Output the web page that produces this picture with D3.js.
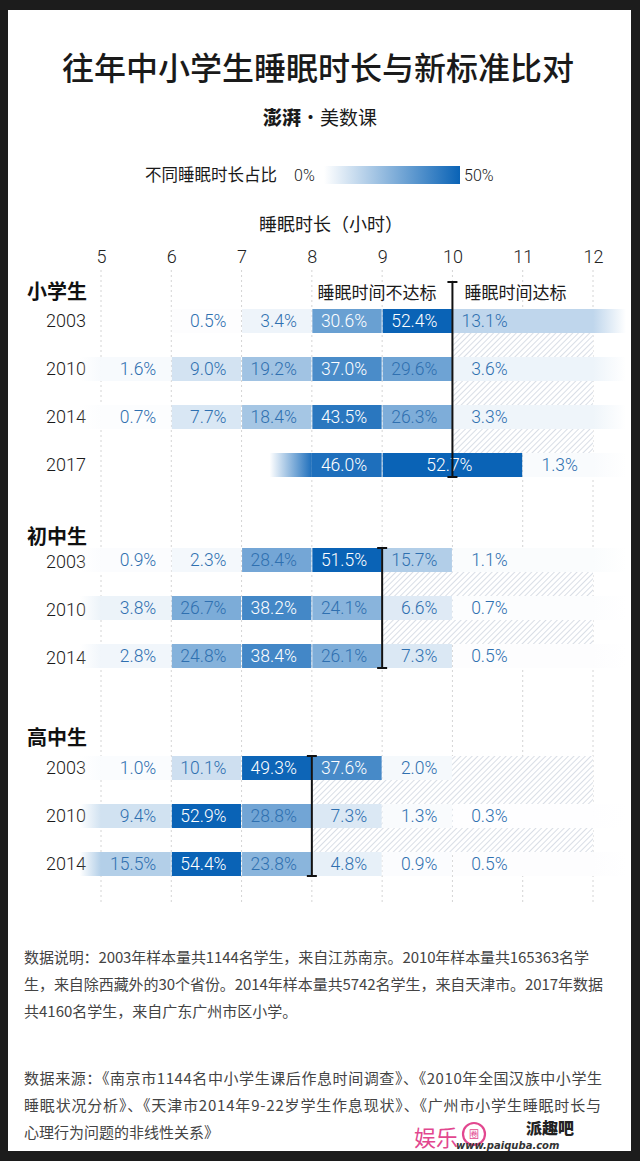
<!DOCTYPE html>
<html><head><meta charset="utf-8">
<script src="https://cdn.jsdelivr.net/npm/d3@7"></script>
<style>html,body{margin:0;padding:0;background:#1c1c1c;} svg{display:block}</style>
</head><body>
<svg id="c" width="640" height="1161"></svg>
<script>
// ---------- data ----------
const tickHours = [5, 6, 7, 8, 9, 10, 11, 12];
const tickLabels = ["5", "6", "7", "8", "9", "10", "11", "12"];
const groupNames = ["小学生", "初中生", "高中生"];
const standardHours = [10, 9, 8];

// standard bins: <6, 6-7, 7-8, 8-9, 9-10, >=10
const binStarts = [5, 6, 7, 8, 9, 10];
const binEnds = [6, 7, 8, 9, 10, 12];
const binLabelEnds = [6, 7, 8, 9, 10, 11];
// 2017 primary bins: <9, 9-11, >=11
const bins2017Starts = [8, 9, 11];
const bins2017Ends = [9, 11, 12];
const bins2017LabelEnds = [9, 10.5, 12];

const primaryYears = ["2003", "2010", "2014", "2017"];
const primary2003 = [null, 0.5, 3.4, 30.6, 52.4, 13.1];
const primary2010 = [1.6, 9.0, 19.2, 37.0, 29.6, 3.6];
const primary2014 = [0.7, 7.7, 18.4, 43.5, 26.3, 3.3];
const primary2017 = [46.0, 52.7, 1.3];

const juniorYears = ["2003", "2010", "2014"];
const junior2003 = [0.9, 2.3, 28.4, 51.5, 15.7, 1.1];
const junior2010 = [3.8, 26.7, 38.2, 24.1, 6.6, 0.7];
const junior2014 = [2.8, 24.8, 38.4, 26.1, 7.3, 0.5];

const seniorYears = ["2003", "2010", "2014"];
const senior2003 = [1.0, 10.1, 49.3, 37.6, 2.0, null];
const senior2010 = [9.4, 52.9, 28.8, 7.3, 1.3, 0.3];
const senior2014 = [15.5, 54.4, 23.8, 4.8, 0.9, 0.5];

const legendTitle = "不同睡眠时长占比";
const legendDomain = [0, 50];
const noteLines = [
  "数据说明：2003年样本量共1144名学生，来自江苏南京。2010年样本量共165363名学",
  "生，来自除西藏外的30个省份。2014年样本量共5742名学生，来自天津市。2017年数据",
  "共4160名学生，来自广东广州市区小学。"
];
const sourceLines = [
  "数据来源：《南京市1144名中小学生课后作息时间调查》、《2010年全国汉族中小学生",
  "睡眠状况分析》、《天津市2014年9-22岁学生作息现状》、《广州市小学生睡眠时长与",
  "心理行为问题的非线性关系》"
];

// ---------- build ----------
const std = (vals) => ({vals, starts: binStarts, ends: binEnds, labelEnds: binLabelEnds, fadeL: 0.3});
const groups = [
  {name: groupNames[0], standard: standardHours[0], firstY: 321, labelGap: 22, rows: [
    {year: primaryYears[0], ...std(primary2003)},
    {year: primaryYears[1], ...std(primary2010)},
    {year: primaryYears[2], ...std(primary2014)},
    {year: primaryYears[3], vals: primary2017, starts: bins2017Starts, ends: bins2017Ends, labelEnds: bins2017LabelEnds, fadeL: 0.6}
  ]},
  {name: groupNames[1], standard: standardHours[1], firstY: 560, labelGap: 16, rows: [
    {year: juniorYears[0], ...std(junior2003)},
    {year: juniorYears[1], ...std(junior2010)},
    {year: juniorYears[2], ...std(junior2014)}
  ]},
  {name: groupNames[2], standard: standardHours[2], firstY: 768, labelGap: 23, rows: [
    {year: seniorYears[0], ...std(senior2003)},
    {year: seniorYears[1], ...std(senior2010)},
    {year: seniorYears[2], ...std(senior2014)}
  ]}
];

const CJK = "'Noto Sans CJK SC','Noto Sans',sans-serif";
const NUM = "'Roboto','Lato',sans-serif";
const BLUE_TXT = "#2f70b0";
const svg = d3.select("#c");
const defs = svg.append("defs");

svg.append("rect").attr("x", 8).attr("y", 10).attr("width", 623).attr("height", 1141).attr("fill", "#fff");

const x = d3.scaleLinear().domain([5, 12]).range([101, 593]);
const color = d3.scaleLinear().domain(legendDomain).range(["#ffffff", "#0a63b6"]).clamp(true);
const rowStep = 48, barH = 24;

// hatch pattern
const pat = defs.append("pattern").attr("id", "hatch").attr("patternUnits", "userSpaceOnUse")
  .attr("width", 4).attr("height", 4).attr("patternTransform", "rotate(45)");
pat.append("rect").attr("width", 4).attr("height", 4).attr("fill", "#fff");
pat.append("line").attr("x1", 0).attr("y1", 0).attr("x2", 0).attr("y2", 4)
  .attr("stroke", "#cdd4de").attr("stroke-width", 1.5);

// title
svg.append("text").attr("x", 318).attr("y", 80).attr("text-anchor", "middle")
  .attr("font-family", CJK).attr("font-size", 32).attr("font-weight", 500).attr("fill", "#1a1a1a")
  .text("往年中小学生睡眠时长与新标准比对");
const logo = svg.append("text").attr("x", 320).attr("y", 125).attr("text-anchor", "middle")
  .attr("font-family", CJK).attr("font-size", 19).attr("fill", "#1a1a1a");
logo.append("tspan").attr("font-weight", 900).text("澎湃");
logo.append("tspan").text("·美数课");

// legend
svg.append("text").attr("x", 145).attr("y", 181).attr("font-family", CJK).attr("font-size", 16.5)
  .attr("fill", "#1a1a1a").text(legendTitle);
svg.append("text").attr("x", 294).attr("y", 181).attr("font-family", NUM).attr("font-weight", 300).attr("font-size", 16)
  .attr("fill", "#1a1a1a").text(legendDomain[0] + "%");
const lg = defs.append("linearGradient").attr("id", "legGrad");
lg.append("stop").attr("offset", "0%").attr("stop-color", color(legendDomain[0]));
lg.append("stop").attr("offset", "100%").attr("stop-color", color(legendDomain[1]));
svg.append("rect").attr("x", 324).attr("y", 166).attr("width", 136).attr("height", 18).attr("fill", "url(#legGrad)");
svg.append("text").attr("x", 464).attr("y", 181).attr("font-family", NUM).attr("font-weight", 300).attr("font-size", 16)
  .attr("fill", "#1a1a1a").text(legendDomain[1] + "%");

// axis title
svg.append("text").attr("x", 331).attr("y", 231).attr("text-anchor", "middle").attr("font-family", CJK)
  .attr("font-size", 18).attr("fill", "#1a1a1a").text("睡眠时长（小时）");

// axis ticks + grid
const axis = d3.axisTop(x).tickValues(tickHours).tickFormat((d, i) => tickLabels[i]).tickSize(0).tickPadding(0);
const ag = svg.append("g").attr("transform", "translate(0,263)").call(axis);
ag.select(".domain").remove();
ag.selectAll("text").attr("font-family", NUM).attr("font-weight", 300).attr("font-size", 18).attr("fill", "#222");
svg.append("g").selectAll("line").data(tickHours).join("line")
  .attr("x1", d => x(d)).attr("x2", d => x(d)).attr("y1", 270).attr("y2", 902)
  .attr("stroke", "#d4d4d4").attr("stroke-width", 1).attr("stroke-dasharray", "2,3");

let gid = 0;
groups.forEach((g, gi) => {
  const y = d3.scaleLinear().domain([0, 1]).range([g.firstY, g.firstY + rowStep]);
  const n = g.rows.length;
  const topY = y(0) - barH / 2, lastTop = y(n - 1) - barH / 2, bottomY = y(n - 1) + barH / 2;

  // group label
  svg.append("text").attr("x", 27).attr("y", y(0) - g.labelGap).attr("font-family", CJK)
    .attr("font-size", 20).attr("font-weight", 700).attr("fill", "#111").text(g.name);

  // hatch region (meets standard)
  svg.append("rect").attr("x", x(g.standard)).attr("y", topY)
    .attr("width", x(12) - x(g.standard)).attr("height", lastTop - topY).attr("fill", "url(#hatch)");

  g.rows.forEach((r, ri) => {
    const cy = y(ri);
    svg.append("text").attr("x", 86).attr("y", cy + 6 + (gi === 1 ? 2 : 0)).attr("text-anchor", "end")
      .attr("font-family", NUM).attr("font-weight", 300).attr("font-size", 18).attr("fill", "#1a1a1a").text(r.year);
    const nb = r.vals.length;
    r.vals.forEach((v, bi) => {
      if (v === null) return;
      const c = color(v);
      const s = r.starts[bi], e = r.ends[bi];
      svg.append("rect").attr("x", x(s) + (bi > 0 ? 0.5 : 0)).attr("y", cy - barH / 2)
        .attr("width", x(e) - x(s) - (bi > 0 ? 0.5 : 0) - (bi < nb - 1 ? 0.5 : 0)).attr("height", barH).attr("fill", c);
      if (bi === 0 && (s === 5 || r.fadeL > 0.4)) {
        const id = "fl" + (gid++);
        const gr = defs.append("linearGradient").attr("id", id);
        gr.append("stop").attr("offset", "0%").attr("stop-color", c).attr("stop-opacity", 0);
        gr.append("stop").attr("offset", "100%").attr("stop-color", c).attr("stop-opacity", 1);
        svg.append("rect").attr("x", x(s - r.fadeL)).attr("y", cy - barH / 2)
          .attr("width", x(s) - x(s - r.fadeL)).attr("height", barH).attr("fill", `url(#${id})`);
      }
      if (bi === nb - 1 && e === 12) {
        const id = "fr" + (gid++);
        const gr = defs.append("linearGradient").attr("id", id);
        gr.append("stop").attr("offset", "0%").attr("stop-color", c).attr("stop-opacity", 1);
        gr.append("stop").attr("offset", "100%").attr("stop-color", c).attr("stop-opacity", 0);
        svg.append("rect").attr("x", x(12)).attr("y", cy - barH / 2)
          .attr("width", x(12.47) - x(12)).attr("height", barH).attr("fill", `url(#${id})`);
      }
      svg.append("text").attr("x", x(r.labelEnds[bi]) - 15).attr("y", cy + 6).attr("text-anchor", "end")
        .attr("font-family", NUM).attr("font-weight", 300).attr("font-size", 17.5)
        .attr("fill", v >= 30 ? "#fff" : BLUE_TXT).text(d3.format(".1f")(v) + "%");
    });
  });

  // standard line with caps
  const lineTop = gi === 0 ? 282 : topY;
  const sx = x(g.standard);
  const sl = svg.append("g").attr("stroke", "#111").attr("stroke-width", 2);
  sl.append("line").attr("x1", sx).attr("x2", sx).attr("y1", lineTop).attr("y2", bottomY);
  sl.append("line").attr("x1", sx - 5).attr("x2", sx + 5).attr("y1", lineTop).attr("y2", lineTop);
  sl.append("line").attr("x1", sx - 5).attr("x2", sx + 5).attr("y1", bottomY).attr("y2", bottomY);

  if (gi === 0) {
    svg.append("text").attr("x", sx - 16).attr("y", 299).attr("text-anchor", "end").attr("font-family", CJK)
      .attr("font-size", 17).attr("fill", "#1a1a1a").text("睡眠时间不达标");
    svg.append("text").attr("x", sx + 12).attr("y", 299).attr("font-family", CJK)
      .attr("font-size", 17).attr("fill", "#1a1a1a").text("睡眠时间达标");
  }
});

// notes
const noteG = svg.append("g").attr("font-family", CJK).attr("font-size", 15).attr("fill", "#444");
const noteLens = [565, 579, null];
const srcLens = [578, 577, null];
noteLines.forEach((t, i) => {
  const tx = noteG.append("text").attr("x", 24).attr("y", 963 + i * 27.2).text(t);
  if (noteLens[i]) tx.attr("textLength", noteLens[i]).attr("lengthAdjust", "spacing");
});
sourceLines.forEach((t, i) => {
  const tx = noteG.append("text").attr("x", 24).attr("y", 1084 + i * 27.2).text(t);
  if (srcLens[i]) tx.attr("textLength", srcLens[i]).attr("lengthAdjust", "spacing");
});

// watermark
const wm = svg.append("g");
wm.append("text").attr("x", 414).attr("y", 1146).attr("font-family", CJK).attr("font-size", 22)
  .attr("fill", "#e2478f").text("娱乐");
wm.append("circle").attr("cx", 474).attr("cy", 1134).attr("r", 11).attr("fill", "none")
  .attr("stroke", "#e2478f").attr("stroke-width", 2.2);
wm.append("text").attr("x", 474).attr("y", 1138).attr("text-anchor", "middle").attr("font-family", CJK)
  .attr("font-size", 10).attr("fill", "#e2478f").text("圈");
wm.append("text").attr("x", 526).attr("y", 1134).attr("font-family", CJK).attr("font-size", 16)
  .attr("font-weight", 900).attr("fill", "#222").text("派趣吧");
wm.append("text").attr("x", 456).attr("y", 1149).attr("font-family", "'DejaVu Sans',sans-serif").attr("font-size", 10)
  .attr("font-weight", 700).attr("font-style", "italic").attr("fill", "#333").text("www.paiquba.com");
</script>
</body></html>
